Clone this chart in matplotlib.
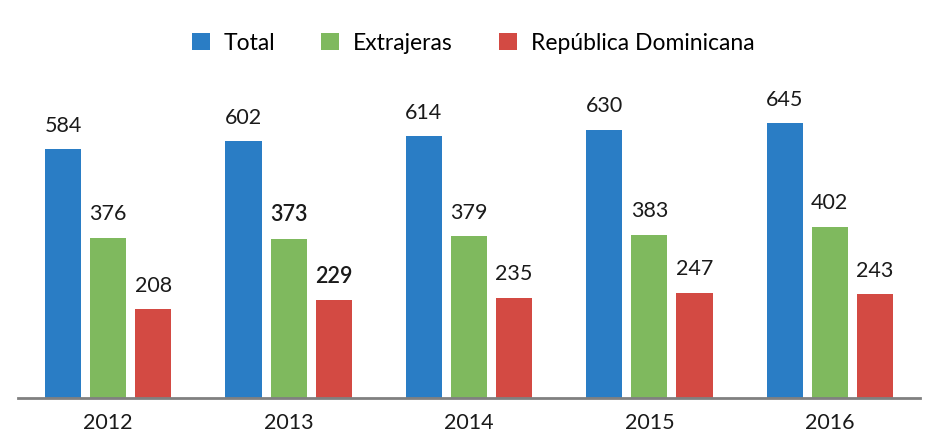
import numpy as np
import matplotlib.pyplot as plt

years = ["2012", "2013", "2014", "2015", "2016"]
total = [584, 602, 614, 630, 645]
extranjeras = [376, 373, 379, 383, 402]
dominicana = [208, 229, 235, 247, 243]
series_names = ["Total", "Extrajeras", "República Dominicana"]

colors = ["#2A7DC5", "#7FB95E", "#D34A43"]

plt.rcParams["font.family"] = ["Lato", "DejaVu Sans"]

fig = plt.figure(figsize=(9.25, 4.35), dpi=100)
ax = fig.add_axes([18 / 925, 36 / 435, 902 / 925, 329 / 435])

x = np.arange(len(years))
width = 0.2
step = 0.25
all_series = [total, extranjeras, dominicana]
for i, (vals, name, c) in enumerate(zip(all_series, series_names, colors)):
    pos = x + (i - 1) * step
    ax.bar(pos, vals, width, color=c, label=name)
    for j, (p, v) in enumerate(zip(pos, vals)):
        bold = (j == 1 and i > 0)
        ax.annotate(str(v), (p, v), xytext=(0, 10.5), textcoords="offset points",
                    ha="center", va="bottom", fontsize=15.5,
                    fontweight="semibold" if bold else "normal", color="#1a1a1a")

ax.set_xlim(-0.5, len(years) - 0.5)
ax.set_ylim(0, 772)
ax.set_xticks(x)
ax.set_xticklabels(years, fontsize=15.5, color="#1a1a1a")
ax.tick_params(axis="x", length=0, pad=10)
ax.set_yticks([])
for s in ["top", "right", "left"]:
    ax.spines[s].set_visible(False)
ax.spines["bottom"].set_color("#808080")
ax.spines["bottom"].set_linewidth(2)

fig.legend(loc="center", bbox_to_anchor=(473 / 925, 1 - 44 / 435), ncol=3,
           frameon=False, fontsize=16.5, handlelength=0.8, handleheight=0.8,
           columnspacing=2.0, handletextpad=0.6)

fig.savefig("out.png", dpi=100)
